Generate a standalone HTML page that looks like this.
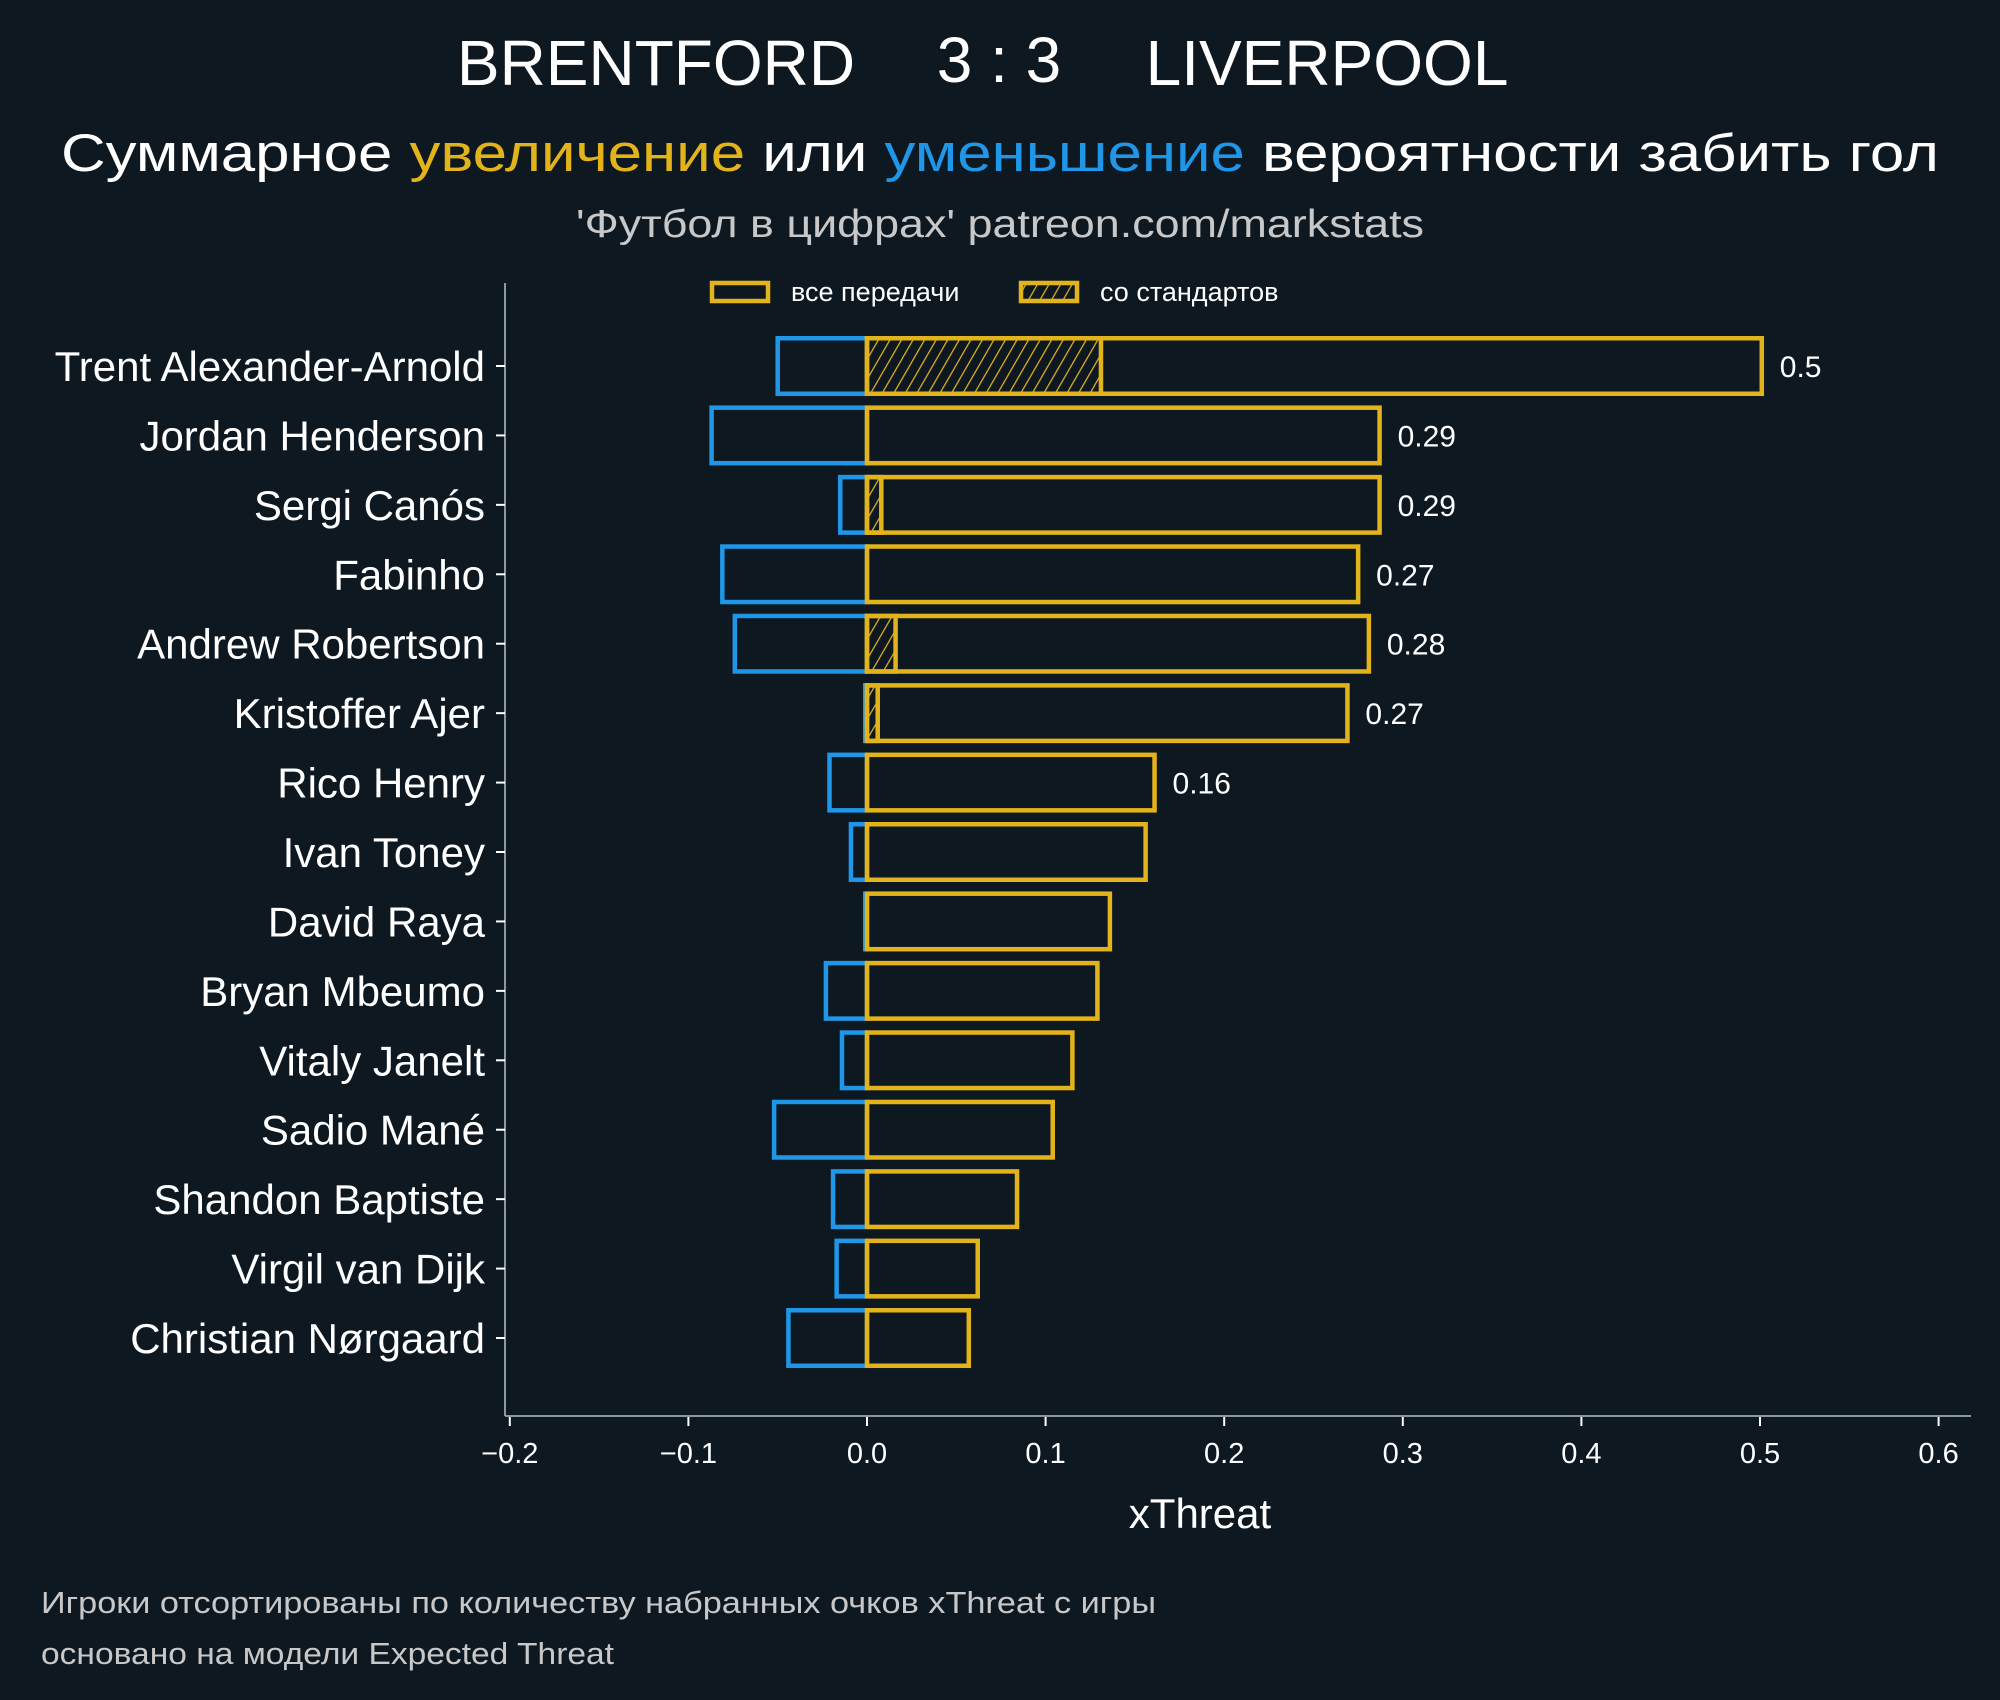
<!DOCTYPE html>
<html><head><meta charset="utf-8">
<style>
html,body{margin:0;padding:0;background:#0e1821;}
svg{display:block;font-family:"Liberation Sans","DejaVu Sans",sans-serif;}
</style></head>
<body>
<svg id="chart" width="2000" height="1700" viewBox="0 0 2000 1700" xmlns="http://www.w3.org/2000/svg">
<defs>
<pattern id="hatch" patternUnits="userSpaceOnUse" width="10" height="10" patternTransform="rotate(30)">
<rect width="10" height="10" fill="#0e1821"/>
<line x1="0" y1="0" x2="0" y2="10" stroke="#e3b31b" stroke-width="2.5"/>
</pattern>
</defs>
<rect width="2000" height="1700" fill="#0e1821"/>
<g fill="#ffffff" font-size="64" text-anchor="middle">
<text x="656" y="85">BRENTFORD</text>
<text x="999" y="82">3 : 3</text>
<text x="1327" y="85">LIVERPOOL</text>
</g>
<text x="61" y="171" font-size="53" textLength="1878" lengthAdjust="spacingAndGlyphs" fill="#ffffff">Суммарное <tspan fill="#e3b31b">увеличение</tspan> или <tspan fill="#1f96e8">уменьшение</tspan> вероятности забить гол</text>
<text x="576" y="237" font-size="39" textLength="848" lengthAdjust="spacingAndGlyphs" fill="#c8c8c8">'Футбол в цифрах' patreon.com/markstats</text>

<g>
<rect x="712" y="283" width="56" height="18" fill="none" stroke="#e3b31b" stroke-width="4.5"/>
<text x="791" y="301" font-size="27" fill="#ffffff">все передачи</text>
<rect x="1021" y="283" width="56" height="18" fill="url(#hatch)" stroke="#e3b31b" stroke-width="4.5"/>
<text x="1100" y="301" font-size="27" fill="#ffffff">со стандартов</text>
</g>

<g id="plot"></g>

<text x="1200" y="1528" font-size="42" text-anchor="middle" fill="#ffffff">xThreat</text>
<text x="41" y="1613" font-size="31" textLength="1115" lengthAdjust="spacingAndGlyphs" fill="#c8c8c8">Игроки отсортированы по количеству набранных очков xThreat с игры</text>
<text x="41" y="1664" font-size="31" textLength="573" lengthAdjust="spacingAndGlyphs" fill="#c8c8c8">основано на модели Expected Threat</text>
</svg>
<script>
const players = ["Trent Alexander-Arnold","Jordan Henderson","Sergi Canós","Fabinho","Andrew Robertson","Kristoffer Ajer","Rico Henry","Ivan Toney","David Raya","Bryan Mbeumo","Vitaly Janelt","Sadio Mané","Shandon Baptiste","Virgil van Dijk","Christian Nørgaard"];
const positiveValues = [0.501,0.287,0.287,0.275,0.281,0.269,0.161,0.156,0.136,0.129,0.115,0.104,0.084,0.062,0.057];
const negativeValues = [-0.050,-0.087,-0.015,-0.081,-0.074,-0.001,-0.021,-0.009,-0.001,-0.023,-0.014,-0.052,-0.019,-0.017,-0.044];
const setPieceValues = [0.131,0,0.008,0,0.016,0.006,0,0,0,0,0,0,0,0,0];
const valueLabels = ["0.5","0.29","0.29","0.27","0.28","0.27","0.16","","","","","","","",""];
const xTicks = [-0.2,-0.1,0.0,0.1,0.2,0.3,0.4,0.5,0.6];
const xTickLabels = ["\u22120.2","\u22120.1","0.0","0.1","0.2","0.3","0.4","0.5","0.6"];

const NS = "http://www.w3.org/2000/svg";
const g = document.getElementById("plot");
const X0 = 867, PX = 1786;
const x = v => X0 + v * PX;
const ROW0 = 366, ROWSTEP = 69.43, BARH = 55.5;
const y = i => ROW0 + i * ROWSTEP;
const YEL = "#e3b31b", BLU = "#1f96e8";
function mk(tag, attrs) { const e = document.createElementNS(NS, tag); for (const k in attrs) e.setAttribute(k, attrs[k]); g.appendChild(e); return e; }

let e = mk("line", {x1:505, y1:283, x2:505, y2:1416, stroke:"#8a9a9a", "stroke-width":2});


e = mk("line", {x1:505, y1:1416, x2:1971, y2:1416, stroke:"#8a9a9a", "stroke-width":2});



xTicks.forEach((t, i) => {
  const tk = mk("line", {x1:x(t), y1:1417, x2:x(t), y2:1426, stroke:"#ffffff", "stroke-width":2});
  
  
  const tl = mk("text", {x:x(t), y:1463, "font-size":29, fill:"#ffffff", "text-anchor":"middle"});
  tl.textContent = xTickLabels[i];
  
  
});

players.forEach((p, i) => {
  const cy = y(i), top = cy - BARH / 2;
  const tk = mk("line", {x1:496, y1:cy, x2:505, y2:cy, stroke:"#ffffff", "stroke-width":2});
  
  
  const lbl = mk("text", {x:485, y:cy + 15, "font-size":42, fill:"#ffffff", "text-anchor":"end"});
  lbl.textContent = p;
  
  

  const nx = x(negativeValues[i]);
  const nb = mk("rect", {x:nx, y:top, width:Math.max(0, x(0) - nx), height:BARH, fill:"none", stroke:BLU, "stroke-width":4.5});
  
  

  if (setPieceValues[i] > 0) {
    const sb = mk("rect", {x:x(0), y:top, width:x(setPieceValues[i]) - x(0), height:BARH, fill:"url(#hatch)", stroke:YEL, "stroke-width":4.5});
    
    
  }
  const pb = mk("rect", {x:x(0), y:top, width:x(positiveValues[i]) - x(0), height:BARH, fill:"none", stroke:YEL, "stroke-width":4.5});
  
  

  if (valueLabels[i]) {
    const vl = mk("text", {x:x(positiveValues[i]) + 18, y:cy + 11, "font-size":30, fill:"#ffffff"});
    vl.textContent = valueLabels[i];
    
    
  }
});
</script>
</body></html>
